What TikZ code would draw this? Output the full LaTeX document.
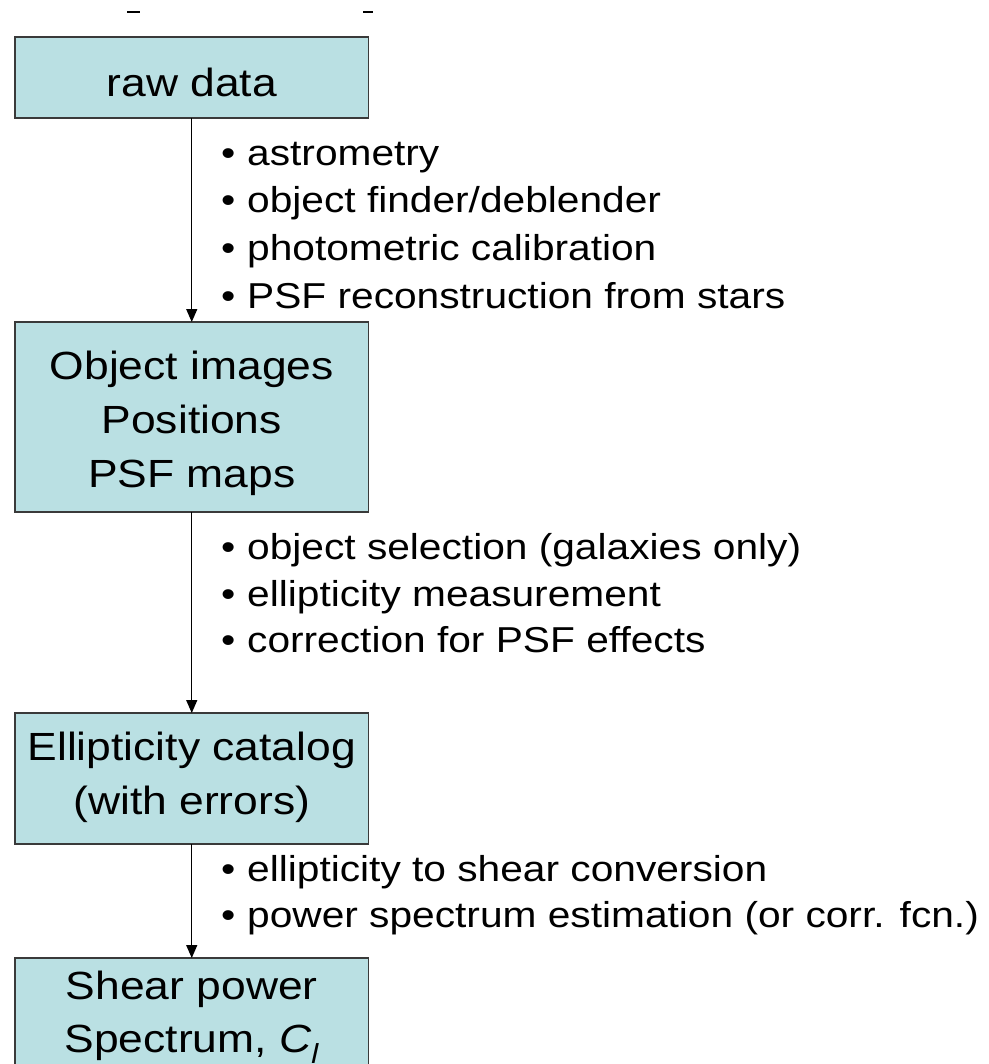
\documentclass[tikz,border=0pt]{standalone}
\usepackage{fontspec}
\setmainfont{Liberation Sans}
\newfontfamily\slidefont[FakeStretch=1.13]{Liberation Sans}
\usetikzlibrary{arrows.meta}
\definecolor{boxfill}{HTML}{BAE0E3}
\definecolor{boxline}{HTML}{3A3A3A}
\begin{document}
\begin{tikzpicture}[x=1pt,y=-1pt,
  stage/.style={draw=boxline, line width=1.4pt, fill=boxfill,
    minimum width=353.5pt, inner sep=0pt, outer sep=0pt},
  boxtext/.style={anchor=base, inner sep=0pt,
    font=\slidefont\fontsize{39.3}{54}\selectfont},
  item/.style={anchor=base west, inner sep=0pt,
    font=\slidefont\fontsize{36}{47}\selectfont},
  flow/.style={draw=black, line width=1.4pt,
    -{Triangle[width=11pt,length=13pt]}}]
\useasboundingbox (0,0) rectangle (988,1064);
\clip (0,0) rectangle (988,1064);
\fill[white] (0,0) rectangle (988,1064);

% cut-off marks along the top edge
\coordinate (m1a) at (127,12.5); \coordinate (m1b) at (140,12.5);
\coordinate (m2a) at (363,12.5); \coordinate (m2b) at (373,12.5);
\draw[line width=2pt, black] (m1a) -- (m1b);
\draw[line width=2pt, black] (m2a) -- (m2b);

% stages
\node[stage, minimum height=81pt]  (raw)  at (191.75,77.5) {};
\node[stage, minimum height=190pt] (obj)  at (191.75,417)  {};
\node[stage, minimum height=131pt] (ell)  at (191.75,778.5) {};
\node[stage, minimum height=122pt] (shear) at (191.75,1019) {};

\node[boxtext] (rawt)  at (191.75,97)  {raw data};
\node[boxtext] (objt1) at (191.75,379) {Object images};
\node[boxtext] (objt2) at (191.75,433) {Positions};
\node[boxtext] (objt3) at (191.75,487) {PSF maps};
\node[boxtext] (ellt1) at (191.75,760) {Ellipticity catalog};
\node[boxtext] (ellt2) at (191.75,814) {(with errors)};
\node[boxtext] (sht1)  at (191.75,999) {Shear power};
\node[boxtext] (sht2)  at (191.75,1052) {Spectrum, {\itshape C}\textsubscript{\itshape l}};

% connectors
\draw[flow] (raw) -- (obj);
\draw[flow] (obj) -- (ell);
\draw[flow] (ell) -- (shear);

% processing steps
\node[item] (s11) at (221,166) {\makebox[26pt][l]{•}astrometry};
\node[item] (s12) at (221,213) {\makebox[26pt][l]{•}object finder/deblender};
\node[item] (s13) at (221,261) {\makebox[26pt][l]{•}photometric calibration};
\node[item] (s14) at (221,308) {\makebox[26pt][l]{•}PSF reconstruction from stars};

\node[item] (s21) at (221,559) {\makebox[26pt][l]{•}object selection (galaxies only)};
\node[item] (s22) at (221,606) {\makebox[26pt][l]{•}ellipticity measurement};
\node[item] (s23) at (221,652) {\makebox[26pt][l]{•}correction for PSF effects};

\node[item] (s31) at (221,881) {\makebox[26pt][l]{•}ellipticity to shear conversion};
\node[item] (s32) at (221,927) {\makebox[26pt][l]{•}power spectrum estimation (or corr. fcn.)};
\end{tikzpicture}
\end{document}
